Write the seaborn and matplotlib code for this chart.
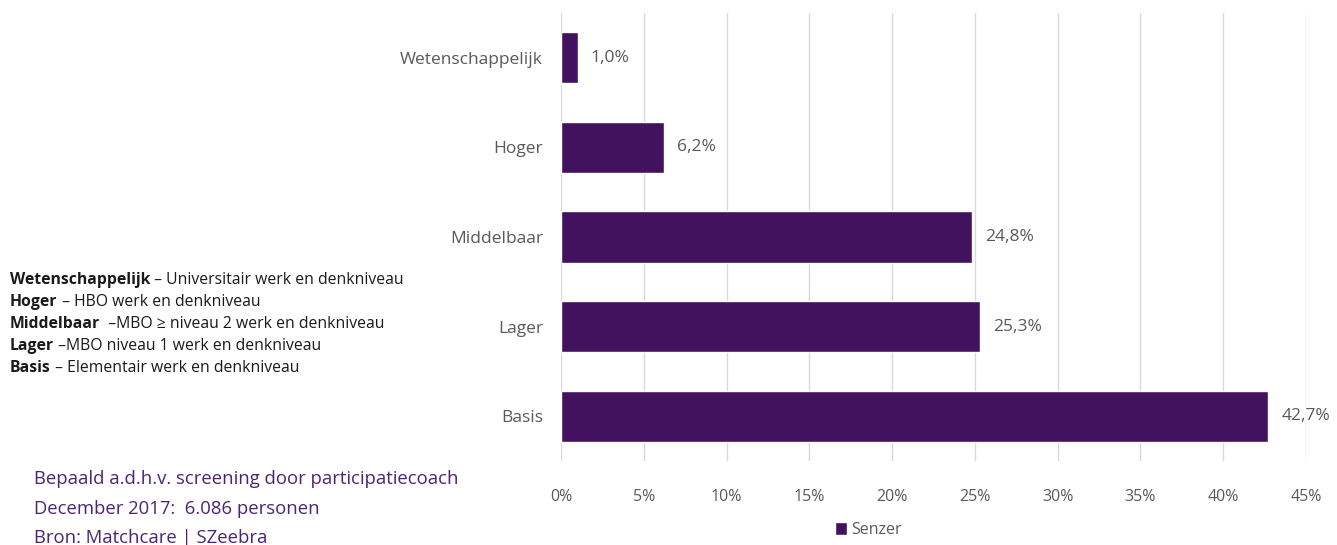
import matplotlib
matplotlib.use("Agg")
import matplotlib.pyplot as plt
import seaborn as sns
import pandas as pd

categories = ["Wetenschappelijk", "Hoger", "Middelbaar", "Lager", "Basis"]
values = [1.0, 6.2, 24.8, 25.3, 42.7]
value_labels = ["1,0%", "6,2%", "24,8%", "25,3%", "42,7%"]
xticks = [0, 5, 10, 15, 20, 25, 30, 35, 40, 45]
xtick_labels = ["0%", "5%", "10%", "15%", "20%", "25%", "30%", "35%", "40%", "45%"]
series_name = "Senzer"

desc_bold = ["Wetenschappelijk", "Hoger", "Middelbaar", "Lager", "Basis"]
desc_rest = [" – Universitair werk en denkniveau", " – HBO werk en denkniveau",
             "  –MBO ≥ niveau 2 werk en denkniveau", " –MBO niveau 1 werk en denkniveau",
             " – Elementair werk en denkniveau"]
footer = ["Bepaald a.d.h.v. screening door participatiecoach",
          "December 2017:  6.086 personen",
          "Bron: Matchcare | SZeebra"]

sns.set_theme(style="white")
plt.rcParams['font.family'] = ['Open Sans', 'DejaVu Sans']

bar_color = "#43125f"
grey = "#595959"

df = pd.DataFrame({"cat": categories, "val": values})

fig = plt.figure(figsize=(13.37, 5.45), dpi=100)
ax = fig.add_axes([561/1337, 1-461/545, (1306-561)/1337, (461-13)/545])
sns.barplot(data=df, x="val", y="cat", orient="h", color=bar_color, width=0.57,
            saturation=1, ax=ax, label=series_name, zorder=3)
handles, labels = ax.get_legend_handles_labels()
if ax.get_legend() is not None:
    ax.get_legend().remove()
ax.set_xlim(0, 45)
ax.set_xticks(xticks)
ax.set_xticklabels(xtick_labels, color=grey, fontsize=11.5)
ax.tick_params(axis="y", labelsize=12.5, labelcolor=grey, length=0, pad=13)
ax.tick_params(axis="x", length=0, pad=20)
ax.set_xlabel("")
ax.set_ylabel("")
ax.xaxis.grid(True, color="#d9d9d9", linewidth=1, zorder=0)
ax.set_axisbelow(True)
for s in ax.spines.values():
    s.set_visible(False)

for i, (v, lab) in enumerate(zip(values, value_labels)):
    ax.text(v + 0.8, i, lab, va="center", ha="left", fontsize=12.5, color=grey)

leg = fig.legend(handles, labels, loc="center",
                 bbox_to_anchor=(868/1337, 1 - 530/545), frameon=False,
                 fontsize=11.5, handlelength=0.8, handleheight=0.8, handletextpad=0.2,
                 borderpad=0.1)
for t in leg.get_texts():
    t.set_color(grey)

# description block
y0 = 280
renderer = fig.canvas.get_renderer()
for i, (b, r) in enumerate(zip(desc_bold, desc_rest)):
    y = 1 - (y0 + i * 22) / 545
    tb = fig.text(10/1337, y, b, fontsize=11.3, fontweight="bold", color="#1a1a1a", va="center", ha="left")
    bb = tb.get_window_extent(renderer=renderer)
    fig.text(bb.x1/1337, y, r, fontsize=11.3, color="#1a1a1a", va="center", ha="left")

for i, line in enumerate(footer):
    fig.text(34/1337, 1 - (479 + i * 29.5) / 545, line, fontsize=13.3, color="#4b2573",
             va="center", ha="left")

fig.savefig("out.png", dpi=100)
